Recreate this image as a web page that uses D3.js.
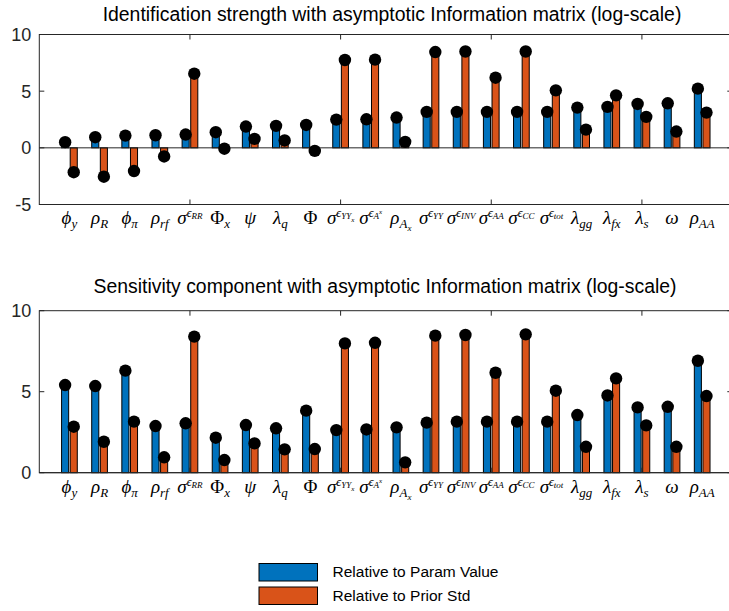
<!DOCTYPE html>
<html>
<head>
<meta charset="utf-8">
<script src="https://cdn.jsdelivr.net/npm/d3@7"></script>
<style>
  body { margin: 0; background: #fff; }
  svg { display: block; }
</style>
</head>
<body>
<svg id="chart" width="729" height="611"></svg>
<script>
// Parameter labels: each is a list of [text, level] pieces
// level: b = italic base, B = upright base, s = subscript, ss = sub-subscript,
// p = superscript, ps = subscript of superscript, pss = one level deeper,
// psp = superscript on a superscript subscript
const paramLabels = [
  [["ϕ","b"],["y","s"]],
  [["ρ","b"],["R","s"]],
  [["ϕ","b"],["π","s"]],
  [["ρ","b"],["rf","s"]],
  [["σ","b"],["ϵ","p"],["RR","ps"]],
  [["Φ","B"],["x","s"]],
  [["ψ","b"]],
  [["λ","b"],["q","s"]],
  [["Φ","B"]],
  [["σ","b"],["ϵ","p"],["YY","ps"],["x","pss"]],
  [["σ","b"],["ϵ","p"],["A","ps"],["x","psp"]],
  [["ρ","b"],["A","s"],["x","ss"]],
  [["σ","b"],["ϵ","p"],["YY","ps"]],
  [["σ","b"],["ϵ","p"],["INV","ps"]],
  [["σ","b"],["ϵ","p"],["AA","ps"]],
  [["σ","b"],["ϵ","p"],["CC","ps"]],
  [["σ","b"],["ϵ","p"],["tot","ps"]],
  [["λ","b"],["gg","s"]],
  [["λ","b"],["fx","s"]],
  [["λ","b"],["s","s"]],
  [["ω","b"]],
  [["ρ","b"],["AA","s"]]
];

// Identification strength (log-scale)
const identParamValue = [0.50, 0.94, 1.08, 1.11, 1.17, 1.38, 1.88, 1.94, 2.02, 2.49, 2.52,
                         2.67, 3.17, 3.17, 3.17, 3.17, 3.17, 3.55, 3.61, 3.87, 3.93, 5.22];
const identPriorStd   = [-2.15, -2.55, -2.05, -0.76, 6.54, -0.08, 0.79, 0.65, -0.27, 7.75, 7.78,
                         0.53, 8.45, 8.50, 6.19, 8.50, 5.07, 1.61, 4.63, 2.73, 1.44, 3.11];

// Sensitivity component (log-scale)
const sensParamValue = [5.41, 5.35, 6.30, 2.88, 3.05, 2.16, 2.94, 2.74, 3.83, 2.63, 2.67,
                        2.80, 3.09, 3.15, 3.15, 3.15, 3.15, 3.56, 4.77, 4.03, 4.07, 6.91];
const sensPriorStd   = [2.84, 1.91, 3.15, 0.95, 8.40, 0.78, 1.81, 1.44, 1.46, 7.98, 8.02,
                        0.64, 8.46, 8.50, 6.17, 8.54, 5.06, 1.60, 5.82, 2.92, 1.60, 4.73];

const seriesNames = ["Relative to Param Value", "Relative to Prior Std"];
const seriesColors = ["#0072BD", "#D95319"];
const xTickValues = [5, 10, 15, 20];

const panels = [
  { title: "Identification strength with asymptotic Information matrix (log-scale)",
    series: [identParamValue, identPriorStd], domain: [-5, 10], yTicks: [-5, 0, 5, 10],
    top: 34.5, bottom: 204.5, titleX: 392, titleY: 20.5, labelY: 224 },
  { title: "Sensitivity component with asymptotic Information matrix (log-scale)",
    series: [sensParamValue, sensPriorStd], domain: [0, 10], yTicks: [0, 5, 10],
    top: 310.7, bottom: 472.7, titleX: 385, titleY: 293, labelY: 493 }
];

const svg = d3.select("#chart");
const axisColor = "#262626";
const x = d3.scaleLinear().domain([0, 23]).range([39.3, 732.3]);
const groupOffset = 0.143, barWidth = 0.235, tickLen = 5;

// Label piece sizes and baseline offsets (px)
const levelStyle = {
  b:   { size: 19, off: 0 },
  B:   { size: 19, off: 0, upright: true },
  s:   { size: 13, off: 4 },
  ss:  { size: 9,  off: 7 },
  p:   { size: 12, off: -7 },
  ps:  { size: 9,  off: -5 },
  pss: { size: 7,  off: -2 },
  psp: { size: 7,  off: -10 }
};

panels.forEach(panel => {
  const y = d3.scaleLinear().domain(panel.domain).range([panel.bottom, panel.top]);
  const g = svg.append("g");
  const x0 = x.range()[0], x1 = x.range()[1];

  g.append("rect")
    .attr("x", x0).attr("y", panel.top)
    .attr("width", x1 - x0).attr("height", panel.bottom - panel.top)
    .attr("fill", "#fff");

  // bars
  panel.series.forEach((vals, si) => {
    const off = si === 0 ? -groupOffset : groupOffset;
    g.append("g").selectAll("rect").data(vals).join("rect")
      .attr("x", (d, i) => x(i + 1 + off - barWidth / 2))
      .attr("width", x(barWidth) - x(0))
      .attr("y", d => Math.min(y(d), y(0)))
      .attr("height", d => Math.abs(y(d) - y(0)))
      .attr("fill", seriesColors[si])
      .attr("stroke", "#000").attr("stroke-width", 1);
  });

  // baseline
  g.append("line")
    .attr("x1", x0).attr("x2", x1)
    .attr("y1", y(0)).attr("y2", y(0))
    .attr("stroke", axisColor).attr("stroke-width", 1);

  // markers at bar tips
  panel.series.forEach((vals, si) => {
    const off = si === 0 ? -groupOffset : groupOffset;
    g.append("g").selectAll("circle").data(vals).join("circle")
      .attr("cx", (d, i) => x(i + 1 + off))
      .attr("cy", d => y(d))
      .attr("r", 6.2)
      .attr("fill", "#000");
  });

  // axes box
  g.append("rect")
    .attr("x", x0).attr("y", panel.top)
    .attr("width", x1 - x0).attr("height", panel.bottom - panel.top)
    .attr("fill", "none").attr("stroke", axisColor).attr("stroke-width", 1);

  // inward ticks
  xTickValues.forEach(t => {
    g.append("line").attr("x1", x(t)).attr("x2", x(t))
      .attr("y1", panel.bottom).attr("y2", panel.bottom - tickLen)
      .attr("stroke", axisColor);
    g.append("line").attr("x1", x(t)).attr("x2", x(t))
      .attr("y1", panel.top).attr("y2", panel.top + tickLen)
      .attr("stroke", axisColor);
  });
  panel.yTicks.forEach(t => {
    g.append("line").attr("x1", x0).attr("x2", x0 + tickLen)
      .attr("y1", y(t)).attr("y2", y(t)).attr("stroke", axisColor);
    g.append("line").attr("x1", x1).attr("x2", x1 - tickLen)
      .attr("y1", y(t)).attr("y2", y(t)).attr("stroke", axisColor);
    g.append("text")
      .attr("x", x0 - 8).attr("y", y(t))
      .attr("dy", "0.36em")
      .attr("text-anchor", "end")
      .attr("font-family", "Liberation Sans, Arial, sans-serif")
      .attr("font-size", 18)
      .attr("fill", axisColor)
      .text(t);
  });

  // title
  g.append("text")
    .attr("x", panel.titleX).attr("y", panel.titleY)
    .attr("text-anchor", "middle")
    .attr("font-family", "Liberation Sans, Arial, sans-serif")
    .attr("font-size", 19.4)
    .attr("fill", "#000")
    .text(panel.title);

  // parameter labels
  paramLabels.forEach((parts, i) => {
    const t = g.append("text")
      .attr("x", x(i + 1)).attr("y", panel.labelY)
      .attr("text-anchor", "middle")
      .attr("font-family", "Liberation Serif, Times New Roman, serif")
      .attr("font-style", "italic")
      .attr("fill", "#000");
    let prevOff = 0;
    parts.forEach(([txt, lvl]) => {
      const st = levelStyle[lvl];
      t.append("tspan")
        .attr("dy", st.off - prevOff)
        .attr("font-size", st.size)
        .attr("font-style", st.upright ? "normal" : null)
        .text(txt);
      prevOff = st.off;
    });
  });
});

// legend
const legend = svg.append("g");
const legendRows = [{ y: 563.5 }, { y: 587 }];
seriesNames.forEach((name, i) => {
  legend.append("rect")
    .attr("x", 259).attr("y", legendRows[i].y)
    .attr("width", 58.5).attr("height", 17.5)
    .attr("fill", seriesColors[i])
    .attr("stroke", "#000").attr("stroke-width", 1);
  legend.append("text")
    .attr("x", 332.5).attr("y", legendRows[i].y + 13.5)
    .attr("font-family", "Liberation Sans, Arial, sans-serif")
    .attr("font-size", 15.5)
    .attr("fill", "#000")
    .text(name);
});
</script>
</body>
</html>
